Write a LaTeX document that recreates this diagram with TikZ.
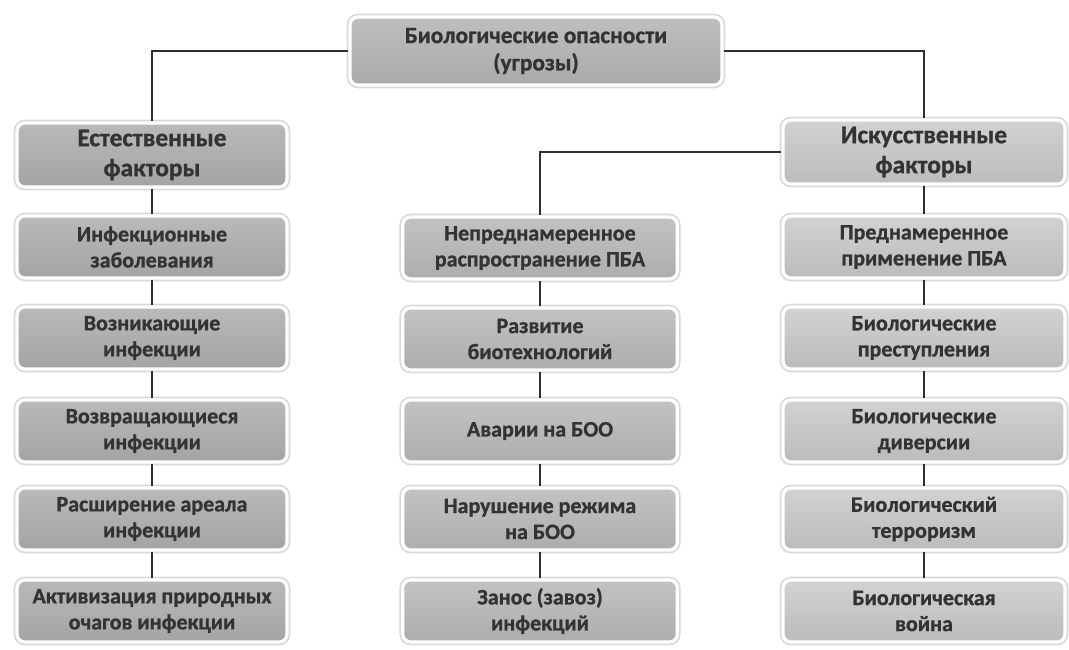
\documentclass[tikz,border=0pt]{standalone}
\usepackage{fontspec}
\setmainfont{Carlito}[BoldFeatures={FakeBold=1.0}]
\definecolor{txt}{HTML}{333333}
\definecolor{lfill}{HTML}{B6B6B6}
\definecolor{mfill}{HTML}{C0C0C0}
\definecolor{rfill}{HTML}{D0D0D0}
\definecolor{tfill}{HTML}{BCBCBC}
\definecolor{lnc}{HTML}{2E2E2E}
\tikzset{
  box/.style={rectangle, rounded corners=6pt, draw=white, line width=2.4pt,
    preaction={draw=black!15, line width=5pt},
    align=center, text=txt, font=\bfseries\fontsize{16.5}{19.5}\selectfont,
    inner sep=0pt, minimum height=46.5pt},
  hbox/.style={font=\bfseries\fontsize{19}{22.5}\selectfont},
  lbox/.style={box, top color=lfill!96!white, bottom color=lfill!90!black, minimum width=202.5pt},
  mbox/.style={box, top color=mfill!96!white, bottom color=mfill!90!black, minimum width=206pt},
  rbox/.style={box, top color=rfill!96!white, bottom color=rfill!90!black, minimum width=211.5pt},
  tbox/.style={box, top color=tfill!96!white, bottom color=tfill!90!black, minimum width=279pt, minimum height=51pt,
    font=\bfseries\fontsize{17.5}{20.5}\selectfont},
  conn/.style={draw=lnc, line width=1.4pt},
}
\begin{document}
\begin{tikzpicture}[x=0.75pt,y=-0.75pt]
\useasboundingbox[fill=white] (0,0) rectangle (1069,649);
% top
\node[tbox] (top) at (536,51) {Биологические опасности\\(угрозы)};
% left column
\node[lbox, hbox, minimum height=48pt] (n1) at (152,155) {Естественные\\факторы};
\node[lbox] (n2) at (152,247) {Инфекционные\\заболевания};
\node[lbox] (n3) at (152,338) {Возникающие\\инфекции};
\node[lbox] (n4) at (152,431) {Возвращающиеся\\инфекции};
\node[lbox] (n5) at (152,519) {Расширение ареала\\инфекции};
\node[lbox] (n6) at (152,611) {Активизация природных\\очагов инфекции};
% middle column
\node[mbox] (m1) at (540,248) {Непреднамеренное\\распространение ПБА};
\node[mbox] (m2) at (540,339) {Развитие\\биотехнологий};
\node[mbox] (m3) at (540,431) {Аварии на БОО};
\node[mbox] (m4) at (540,519) {Нарушение режима\\на БОО};
\node[mbox] (m5) at (540,611) {Занос (завоз)\\инфекций};
% right column
\node[rbox, hbox, minimum height=48pt] (a1) at (924,152) {Искусственные\\факторы};
\node[rbox] (a2) at (924,247) {Преднамеренное\\применение ПБА};
\node[rbox] (a3) at (924,338) {Биологические\\преступления};
\node[rbox] (a4) at (924,431) {Биологические\\диверсии};
\node[rbox] (a5) at (924,519) {Биологический\\терроризм};
\node[rbox] (a6) at (924,611) {Биологическая\\война};
% connectors
\path[conn] (top.west) -| (n1.north);
\path[conn] (top.east) -| (a1.north);
\path[conn] (a1.west) -| (m1.north);
\foreach \a/\b in {n1/n2,n2/n3,n3/n4,n4/n5,n5/n6,m1/m2,m2/m3,m3/m4,m4/m5,a1/a2,a2/a3,a3/a4,a4/a5,a5/a6}
  \path[conn] (\a.south) -- (\b.north);
\end{tikzpicture}
\end{document}
